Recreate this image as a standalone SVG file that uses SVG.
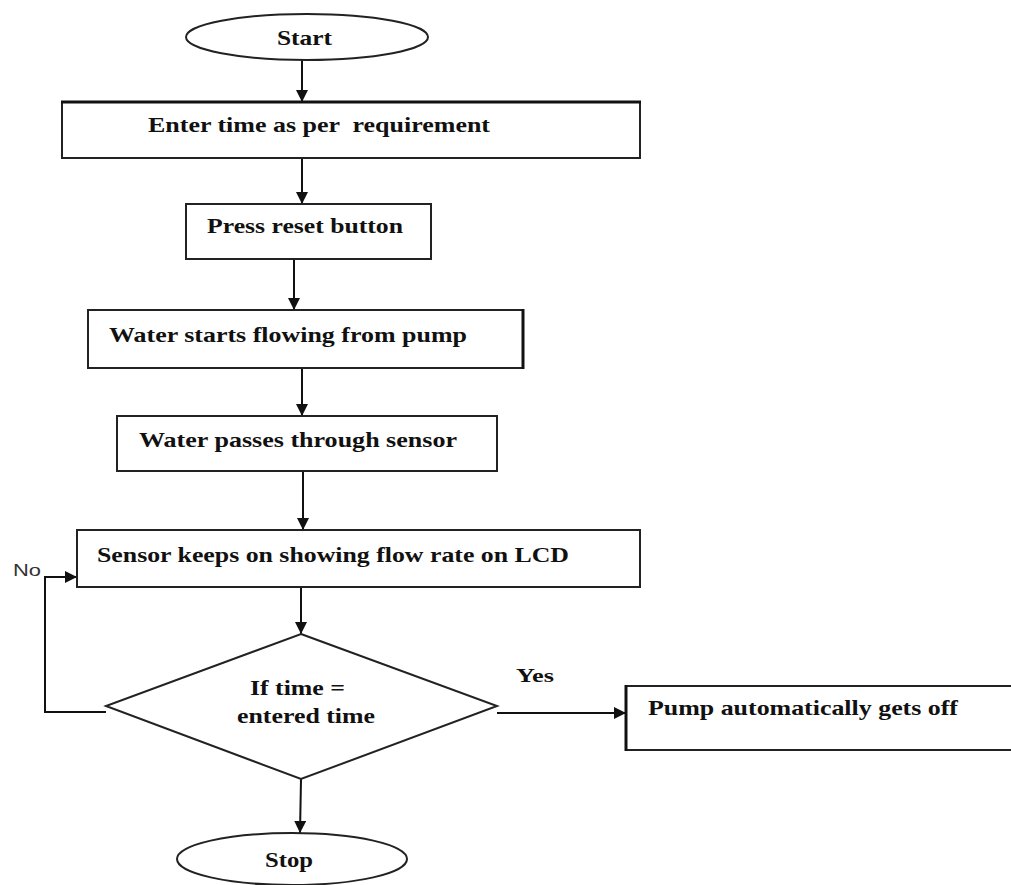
<svg xmlns="http://www.w3.org/2000/svg" width="1011" height="885" viewBox="0 0 1011 885">
<defs>
<marker id="arr" viewBox="0 0 10 10" refX="10" refY="5" markerWidth="12" markerHeight="12" markerUnits="userSpaceOnUse" orient="auto">
<path d="M0,0 L10,5 L0,10 z" fill="#111"/>
</marker>
</defs>
<style>
.shape{fill:#fff;stroke:#222;stroke-width:2}
.lbl{font-family:"Liberation Serif","Times New Roman",serif;font-weight:bold;font-size:21px;fill:#111}
.edge{fill:none;stroke:#111;stroke-width:2;marker-end:url(#arr)}
.no{font-family:"Liberation Sans",Arial,sans-serif;font-size:17px;fill:#333}
</style>
<rect width="1011" height="885" fill="#fff"/>
<g id="connectors">
<line class="edge" x1="302" y1="60" x2="302" y2="102"/>
<line class="edge" x1="302" y1="158" x2="302" y2="204"/>
<line class="edge" x1="294" y1="259" x2="294" y2="310"/>
<line class="edge" x1="302" y1="368" x2="302" y2="416"/>
<line class="edge" x1="303" y1="471" x2="303" y2="530"/>
<line class="edge" x1="301" y1="587" x2="301" y2="634"/>
<line class="edge" x1="301" y1="779" x2="300" y2="833"/>
<polyline class="edge" points="106,712 45,712 45,577 77,577"/>
<line class="edge" x1="497" y1="713" x2="626" y2="713"/>
<text class="no" x="13" y="576" textLength="28" lengthAdjust="spacingAndGlyphs">No</text>
<text class="lbl" x="516" y="682" textLength="38" lengthAdjust="spacingAndGlyphs" style="font-size:19px">Yes</text>
</g>
<g id="start">
<ellipse class="shape" cx="307" cy="37" rx="121" ry="23"/>
<text class="lbl" x="277" y="45" textLength="55" lengthAdjust="spacingAndGlyphs">Start</text>
</g>
<g id="enter-time">
<rect class="shape" x="62" y="102" width="578" height="56"/>
<line x1="61" y1="102" x2="641" y2="102" stroke="#111" stroke-width="3"/>
<text class="lbl" x="148" y="132" textLength="342" lengthAdjust="spacingAndGlyphs" xml:space="preserve">Enter time as per  requirement</text>
</g>
<g id="press-reset">
<rect class="shape" x="186" y="204" width="245" height="55"/>
<text class="lbl" x="207" y="233" textLength="196" lengthAdjust="spacingAndGlyphs">Press reset button</text>
</g>
<g id="water-flowing">
<rect class="shape" x="88" y="310" width="435" height="58"/>
<line x1="523" y1="309" x2="523" y2="369" stroke="#111" stroke-width="3"/>
<text class="lbl" x="109" y="342" textLength="358" lengthAdjust="spacingAndGlyphs">Water starts flowing from pump</text>
</g>
<g id="water-sensor">
<rect class="shape" x="117" y="416" width="380" height="55"/>
<text class="lbl" x="139" y="447" textLength="318" lengthAdjust="spacingAndGlyphs">Water passes through sensor</text>
</g>
<g id="sensor-lcd">
<rect class="shape" x="77" y="530" width="563" height="57"/>
<text class="lbl" x="97" y="562" textLength="472" lengthAdjust="spacingAndGlyphs">Sensor keeps on showing flow rate on LCD</text>
</g>
<g id="decision">
<polygon class="shape" points="301,634 497,706 301,779 106,706"/>
<text class="lbl" x="250" y="695" textLength="95" lengthAdjust="spacingAndGlyphs">If time =</text>
<text class="lbl" x="237" y="723" textLength="138" lengthAdjust="spacingAndGlyphs">entered time</text>
</g>
<g id="pump-off">
<rect class="shape" x="626" y="686" width="400" height="64"/>
<line x1="626" y1="685" x2="626" y2="751" stroke="#111" stroke-width="3"/>
<text class="lbl" x="648" y="715" textLength="310" lengthAdjust="spacingAndGlyphs">Pump automatically gets off</text>
</g>
<g id="stop">
<ellipse class="shape" cx="292" cy="859" rx="115" ry="26"/>
<text class="lbl" x="265" y="867" textLength="48" lengthAdjust="spacingAndGlyphs">Stop</text>
</g>
</svg>
